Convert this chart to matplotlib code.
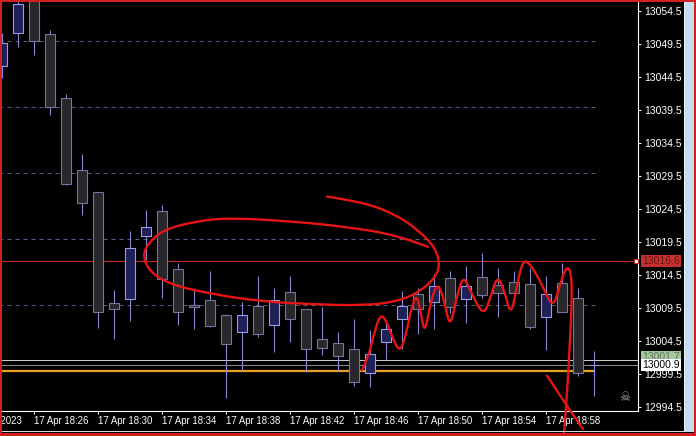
import numpy as np
import matplotlib.pyplot as plt
from matplotlib.patches import Rectangle, PathPatch
from matplotlib.path import Path

# Velas de 1 minuto, 17 Apr 18:24 ... 19:01
opens = [13046.2, 13051.2, 13057.3, 13051.0, 13041.3, 13030.4, 13027.1, 13010.3,
         13010.9, 13020.5, 13024.2, 13015.4, 13010.0, 13010.7, 13008.5, 13005.9,
         13009.9, 13006.9, 13012.0, 13009.4, 13004.9, 13004.2, 13003.4, 12999.7,
         13004.4, 13007.9, 13011.7, 13010.5, 13014.1, 13010.9, 13014.3, 13013.0,
         13013.5, 13013.2, 13008.2, 13013.3, 13011.0, 13000.9]
highs = [13051.2, 13056.5, 13058.0, 13051.7, 13042.0, 13032.8, 13027.1, 13012.3,
         13021.2, 13024.3, 13025.1, 13016.3, 13012.6, 13015.1, 13008.6, 13010.5,
         13014.4, 13012.5, 13014.4, 13009.4, 13009.7, 13005.9, 13007.9, 13006.2,
         13007.6, 13012.1, 13012.5, 13014.7, 13015.1, 13015.9, 13017.9, 13015.6,
         13015.1, 13015.6, 13014.4, 13016.3, 13012.6, 13003.1]
lows = [13044.3, 13049.0, 13047.9, 13038.7, 13028.1, 13023.6, 13006.5, 13004.8,
        13007.5, 13016.8, 13011.1, 13007.0, 13006.3, 13006.7, 12995.9, 13000.0,
        13005.2, 13002.8, 13004.4, 12999.9, 13002.4, 13000.0, 12997.7, 12997.5,
        13001.7, 13003.3, 13005.6, 13006.3, 13008.8, 13007.2, 13011.1, 13008.1,
        13011.5, 13006.4, 13003.2, 13009.0, 12999.3, 12996.2]
closes = [13049.6, 13055.6, 13049.9, 13039.9, 13028.3, 13025.4, 13009.0, 13009.4,
          13018.6, 13021.8, 13014.0, 13009.0, 13009.7, 13006.8, 13004.1, 13008.5,
          13005.6, 13010.7, 13007.9, 13003.3, 13003.5, 13002.2, 12998.4, 13002.6,
          13006.3, 13009.9, 13009.4, 13012.8, 13009.7, 13012.8, 13011.5, 13011.8,
          13011.8, 13006.6, 13011.7, 13009.0, 12999.7, 13000.9]

price_ticks = [12994.5 + 5 * k for k in range(13)]
grid_levels = [13000, 13010, 13020, 13030, 13040, 13050]
time_idx = [-2, 2, 6, 10, 14, 18, 22, 26, 30, 34]
time_labels = ["17 Apr 2023", "17 Apr 18:26", "17 Apr 18:30", "17 Apr 18:34",
               "17 Apr 18:38", "17 Apr 18:42", "17 Apr 18:46", "17 Apr 18:50",
               "17 Apr 18:54", "17 Apr 18:58"]

linea_roja = 13016.6
ask = 13001.7
bid = 13000.9
nivel_naranja = 13000.0

# trazos a mano (indice de vela, precio)
ovalo_x = [26.6, 24.67, 21.54, 18.42, 14.23, 12.17, 10.04, 9.04, 8.79, 9.23, 10.48,
           13.17, 16.3, 19.42, 22.54, 24.67, 26.1, 27.05, 27.36, 27.05, 26.1, 24.67,
           22.54, 20.3]
ovalo_y = [13018.8, 13020.6, 13021.8, 13022.6, 13023.2, 13022.7, 13021.4, 13019.1,
           13017.3, 13015.0, 13013.1, 13011.6, 13010.5, 13010.1, 13009.9, 13010.5,
           13012.0, 13014.1, 13016.1, 13018.7, 13021.1, 13023.6, 13025.6, 13026.4]
zigzag_x = [22.48, 22.86, 23.17, 23.61, 23.98, 24.42, 24.86, 25.23, 25.61, 25.92,
            26.17, 26.42, 26.79, 27.23, 27.61, 27.98, 28.36, 28.79, 29.23, 30.04,
            30.48, 30.92, 31.36, 31.8, 32.17, 32.54, 32.98, 33.73, 34.42, 34.86,
            35.23, 35.55, 35.61, 35.42, 35.23, 35.1]
zigzag_y = [13000.1, 13002.0, 13005.1, 13008.6, 13007.8, 13004.8, 13002.8, 13005.5,
            13010.0, 13011.6, 13008.5, 13005.6, 13010.8, 13013.4, 13010.8, 13006.4,
            13010.8, 13014.5, 13012.3, 13008.3, 13010.8, 13014.5, 13012.3, 13008.2,
            13013.1, 13016.8, 13016.3, 13013.1, 13009.4, 13013.1, 13015.8, 13015.2,
            13010.8, 13001.7, 12994.2, 12990.3]
trazo_x = [34.04, 35.2, 36.29]
trazo_y = [12999.3, 12995.0, 12991.2]

W, H = 696, 436
fig = plt.figure(figsize=(W / 100, H / 100), dpi=100, facecolor='black')
ax = fig.add_axes([0, 25 / H, 638 / W, 411 / H])
ax.set_facecolor('black')
ax.set_xlim(-2.3 / 16, (638 - 2.3) / 16)
ax.set_ylim(12993.94, 13056.17)

n = len(opens)
idx = np.arange(n)
o = np.array(opens)
c = np.array(closes)
up = c >= o

# rejilla
ax.hlines(grid_levels, -0.2, n - 0.8, colors='#5c5c88', linewidth=0.72,
          linestyles=(0, (4, 4)), zorder=1)

# lineas de precio
ax.axhline(ask, color='#c8ccc0', linewidth=0.72, zorder=2)
ax.axhline(bid, color='#8c8c8c', linewidth=0.72, zorder=2)
ax.hlines(nivel_naranja, -0.2, n - 1, colors='#e8a020', linewidth=1.6, zorder=2)
ax.axhline(linea_roja, color='#c02828', linewidth=0.8, zorder=2)
ax.plot([(636 - 2.3) / 16], [linea_roja], marker='s', ms=3.5, mfc='white',
        mec='#c02828', mew=0.8, clip_on=False, zorder=6)

# velas
ax.vlines(idx, lows, highs, colors='#8a8ad8', linewidth=0.8, zorder=3)
ax.bar(idx[up], (c - o)[up], bottom=o[up], width=0.62, color='#202058',
       edgecolor='#9a9ae8', linewidth=0.8, zorder=4)
ax.bar(idx[~up], (c - o)[~up], bottom=o[~up], width=0.62, color='#28282c',
       edgecolor='#74749e', linewidth=0.8, zorder=4)

# ejes
for s in ['left', 'top']:
    ax.spines[s].set_visible(False)
ax.spines['right'].set_color('white')
ax.spines['bottom'].set_color('white')
ax.spines['right'].set_linewidth(0.8)
ax.spines['bottom'].set_linewidth(0.8)
ax.yaxis.tick_right()
ax.set_yticks(price_ticks)
ax.set_yticklabels([f"{p:.1f}" for p in price_ticks])
ax.tick_params(axis='y', colors='white', length=2.2, pad=2.6, labelsize=7.5,
               width=0.7)
for lbl in ax.get_yticklabels():
    lbl.set_family('Liberation Sans')
ax.set_xticks(time_idx[1:])
ax.set_xticklabels([])
ax.tick_params(axis='x', colors='white', length=2.5, width=0.7)
for t, lab in zip(time_idx, time_labels):
    ax.text(t, -0.025, lab, transform=ax.get_xaxis_transform(), color='white',
            fontsize=6.9, family='Liberation Sans', ha='left', va='center')

# etiquetas de precio
yt = ax.get_yaxis_transform()
ax.text(1.006, linea_roja, f"{linea_roja:.1f}", transform=yt, color='#701414',
        fontsize=7.5, family='Liberation Sans', va='center', ha='left', zorder=7,
        bbox=dict(facecolor='#c43030', edgecolor='none', pad=0.8))
ax.text(1.006, ask + 0.35, f"{ask:.1f}", transform=yt, color='#607060',
        fontsize=7.5, family='Liberation Sans', va='center', ha='left', zorder=7,
        bbox=dict(facecolor='#a4c89c', edgecolor='none', pad=0.8))
ax.text(1.006, bid, f"{bid:.1f}", transform=yt, color='black',
        fontsize=7.5, family='Liberation Sans', va='center', ha='left', zorder=8,
        bbox=dict(facecolor='white', edgecolor='none', pad=0.8))

ax.text(38.9, 12996.0, '\u2620', color='#a0a0a0', fontsize=9, ha='center',
        va='center', zorder=5)


# dibujo a mano en rojo: curva de Bezier sobre los puntos leidos
def trazo(xs, ys):
    pts = list(zip(xs, ys))
    verts = [pts[0]]
    codes = [Path.MOVETO]
    for i in range(1, len(pts) - 1):
        mx = (pts[i][0] + pts[i + 1][0]) / 2
        my = (pts[i][1] + pts[i + 1][1]) / 2
        if i == len(pts) - 2:
            mx, my = pts[i + 1]
        verts += [pts[i], (mx, my)]
        codes += [Path.CURVE3, Path.CURVE3]
    if len(pts) == 2:
        verts.append(pts[1])
        codes.append(Path.LINETO)
    ax.add_patch(PathPatch(Path(verts, codes), facecolor='none', edgecolor='#e81414',
                           linewidth=1.7, clip_on=False, zorder=9,
                           capstyle='round', joinstyle='round'))


trazo(ovalo_x, ovalo_y)
trazo(zigzag_x, zigzag_y)
trazo(trazo_x, trazo_y)


# marco de la ventana
def caja(x, y, w, h, col):
    fig.add_artist(Rectangle((x / W, 1 - (y + h) / H), w / W, h / H,
                             transform=fig.transFigure, facecolor=col,
                             edgecolor='none', zorder=20))


caja(684, 0, 10, 432, '#c4dcf0')
caja(684, 0, 1, 432, '#e8f0f8')
caja(0, 431, 696, 1, '#d8d8d8')
caja(0, 0, 696, 2, '#d02020')
caja(0, 0, 2, 436, '#d02020')
caja(694, 0, 2, 436, '#d02020')
caja(0, 433, 696, 3, '#d02020')

fig.savefig('out.png', dpi=100, facecolor='black')
